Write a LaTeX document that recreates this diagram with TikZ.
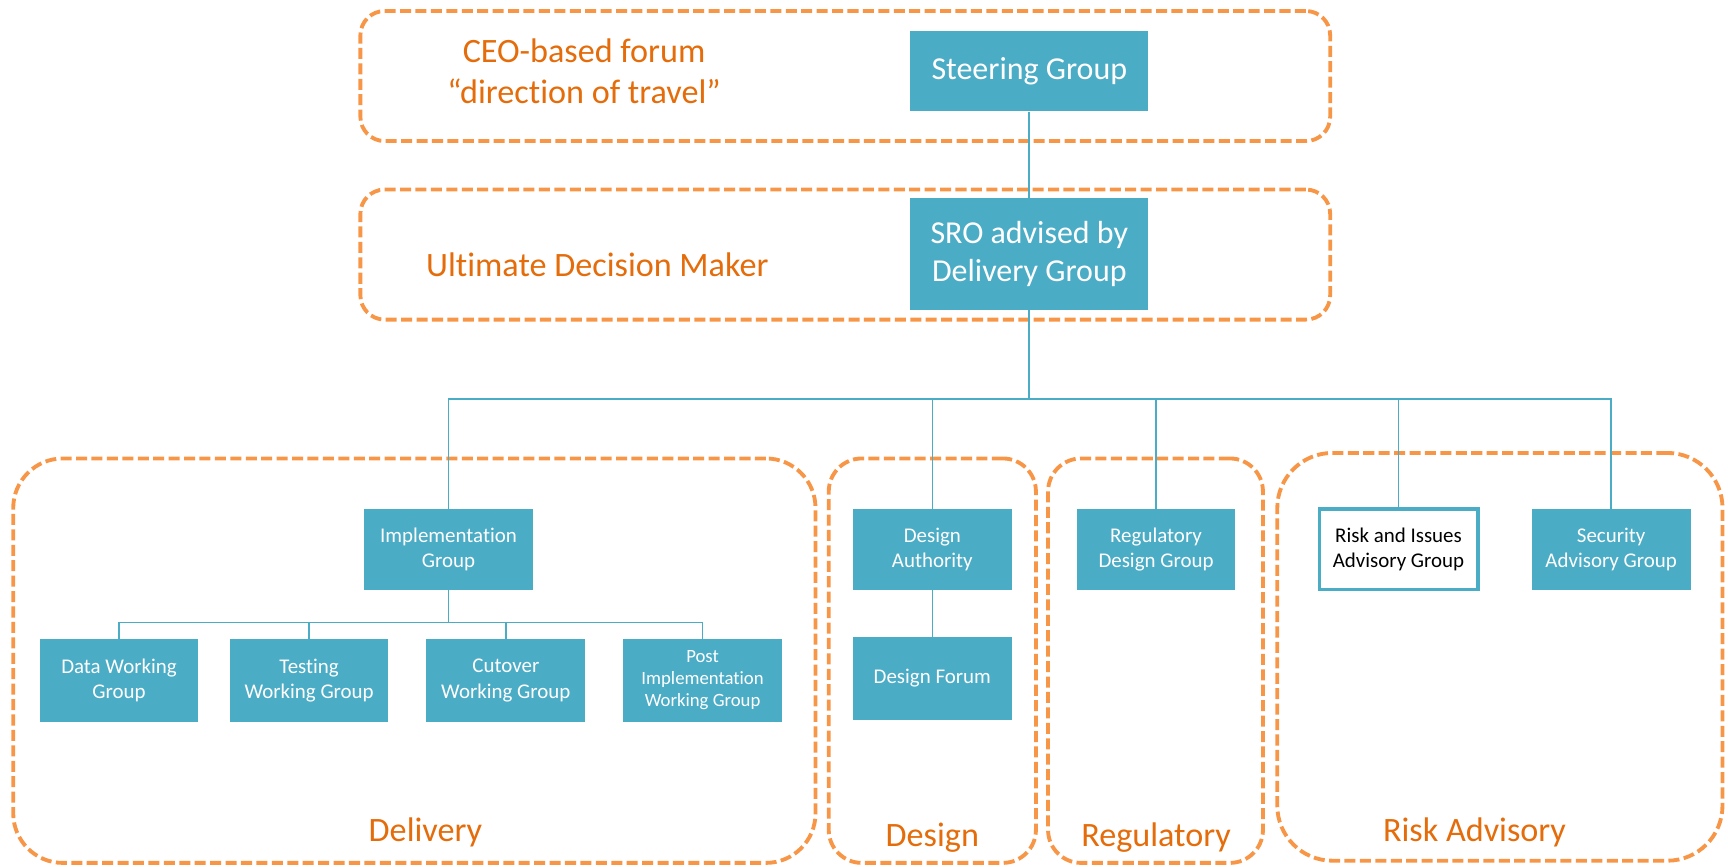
\documentclass[tikz,border=0pt]{standalone}
\usepackage{fontspec}
\setmainfont{Carlito}[Ligatures=NoCommon]
\definecolor{boxteal}{HTML}{4BACC6}
\definecolor{frameorange}{HTML}{F79646}
\definecolor{labelorange}{HTML}{E46C0A}

\begin{document}
\begin{tikzpicture}
    [x=1pt, y=-1pt,
     block/.style={rectangle, fill=boxteal, text=white, align=center, inner sep=0pt,
                   minimum width=144, minimum height=73, font=\fontsize{19}{23}\selectfont},
     bigblock/.style={block, minimum width=216, font=\fontsize{29}{35}\selectfont},
     frame/.style={rectangle, draw=frameorange, line width=3.5pt, dash pattern=on 10pt off 4pt, inner sep=0pt},
     tag/.style={text=labelorange, align=center, font=\fontsize{31}{37}\selectfont},
     link/.style={draw=boxteal, line width=1.5pt}]
    \useasboundingbox (0,0) rectangle (1568,786);
    % dashed groups
    \node[frame, rounded corners=22pt, minimum width=880, minimum height=118] (ceoframe) at (767,69) {};
    \node[frame, rounded corners=22pt, minimum width=880, minimum height=118] (sroframe) at (767,231) {};
    \node[frame, rounded corners=45pt, minimum width=728, minimum height=367] (delframe) at (376,599.5) {};
    \node[frame, rounded corners=30pt, minimum width=188, minimum height=367] (desframe) at (846,599.5) {};
    \node[frame, rounded corners=30pt, minimum width=195, minimum height=367] (regframe) at (1048.5,599.5) {};
    \node[frame, rounded corners=50pt, minimum width=404, minimum height=370] (riskframe) at (1361,596) {};
    % group labels
    \node[tag] (ceo) at (530,64.5) {CEO-based forum\\“direction of travel”};
    \node[tag] (udm) at (542,240) {Ultimate Decision Maker};
    \node[tag] (delivery) at (386,755) {Delivery};
    \node[tag] (design) at (846,760) {Design};
    \node[tag] (regulatory) at (1049,760) {Regulatory};
    \node[tag] (riskadv) at (1338,755) {Risk Advisory};
    % top levels
    \node[bigblock] (steering) at (934,64.5) {Steering Group};
    \node[bigblock, minimum height=101] (sro) at (934,230.5) {SRO advised by\\Delivery Group};
    \coordinate (hub) at (934,362);
    % second level
    \node[block, minimum width=154] (impl) at (407,498.5) {Implementation\\Group};
    \node[block] (desauth) at (846,498.5) {Design\\Authority};
    \node[block] (regdes) at (1049,498.5) {Regulatory\\Design Group};
    \node[block, fill=white, text=black, draw=boxteal, line width=3pt] (riskiss) at (1269,498.5) {Risk and Issues\\Advisory Group};
    \node[block] (security) at (1462,498.5) {Security\\Advisory Group};
    % working groups
    \coordinate (subhub) at (407,565);
    \node[block, minimum height=75] (data) at (108,617.5) {Data Working\\Group};
    \node[block, minimum height=75] (testing) at (280.5,617.5) {Testing\\Working Group};
    \node[block, minimum height=75] (cutover) at (459,617.5) {Cutover\\Working Group};
    \node[block, minimum height=75, font=\fontsize{17}{20}\selectfont] (post) at (637.5,617.5) {Post\\Implementation\\Working Group};
    \node[block, minimum height=75] (desforum) at (846,615.5) {Design Forum};
    % connectors
    \draw[link] (steering) -- (sro);
    \draw[link] (sro) -- (hub);
    \foreach \n in {impl, desauth, regdes, riskiss, security}
        \draw[link] (hub) -| (\n);
    \draw[link] (impl) -- (subhub);
    \foreach \n in {data, testing, cutover, post}
        \draw[link] (subhub) -| (\n);
    \draw[link] (desauth) -- (desforum);
\end{tikzpicture}
\end{document}
